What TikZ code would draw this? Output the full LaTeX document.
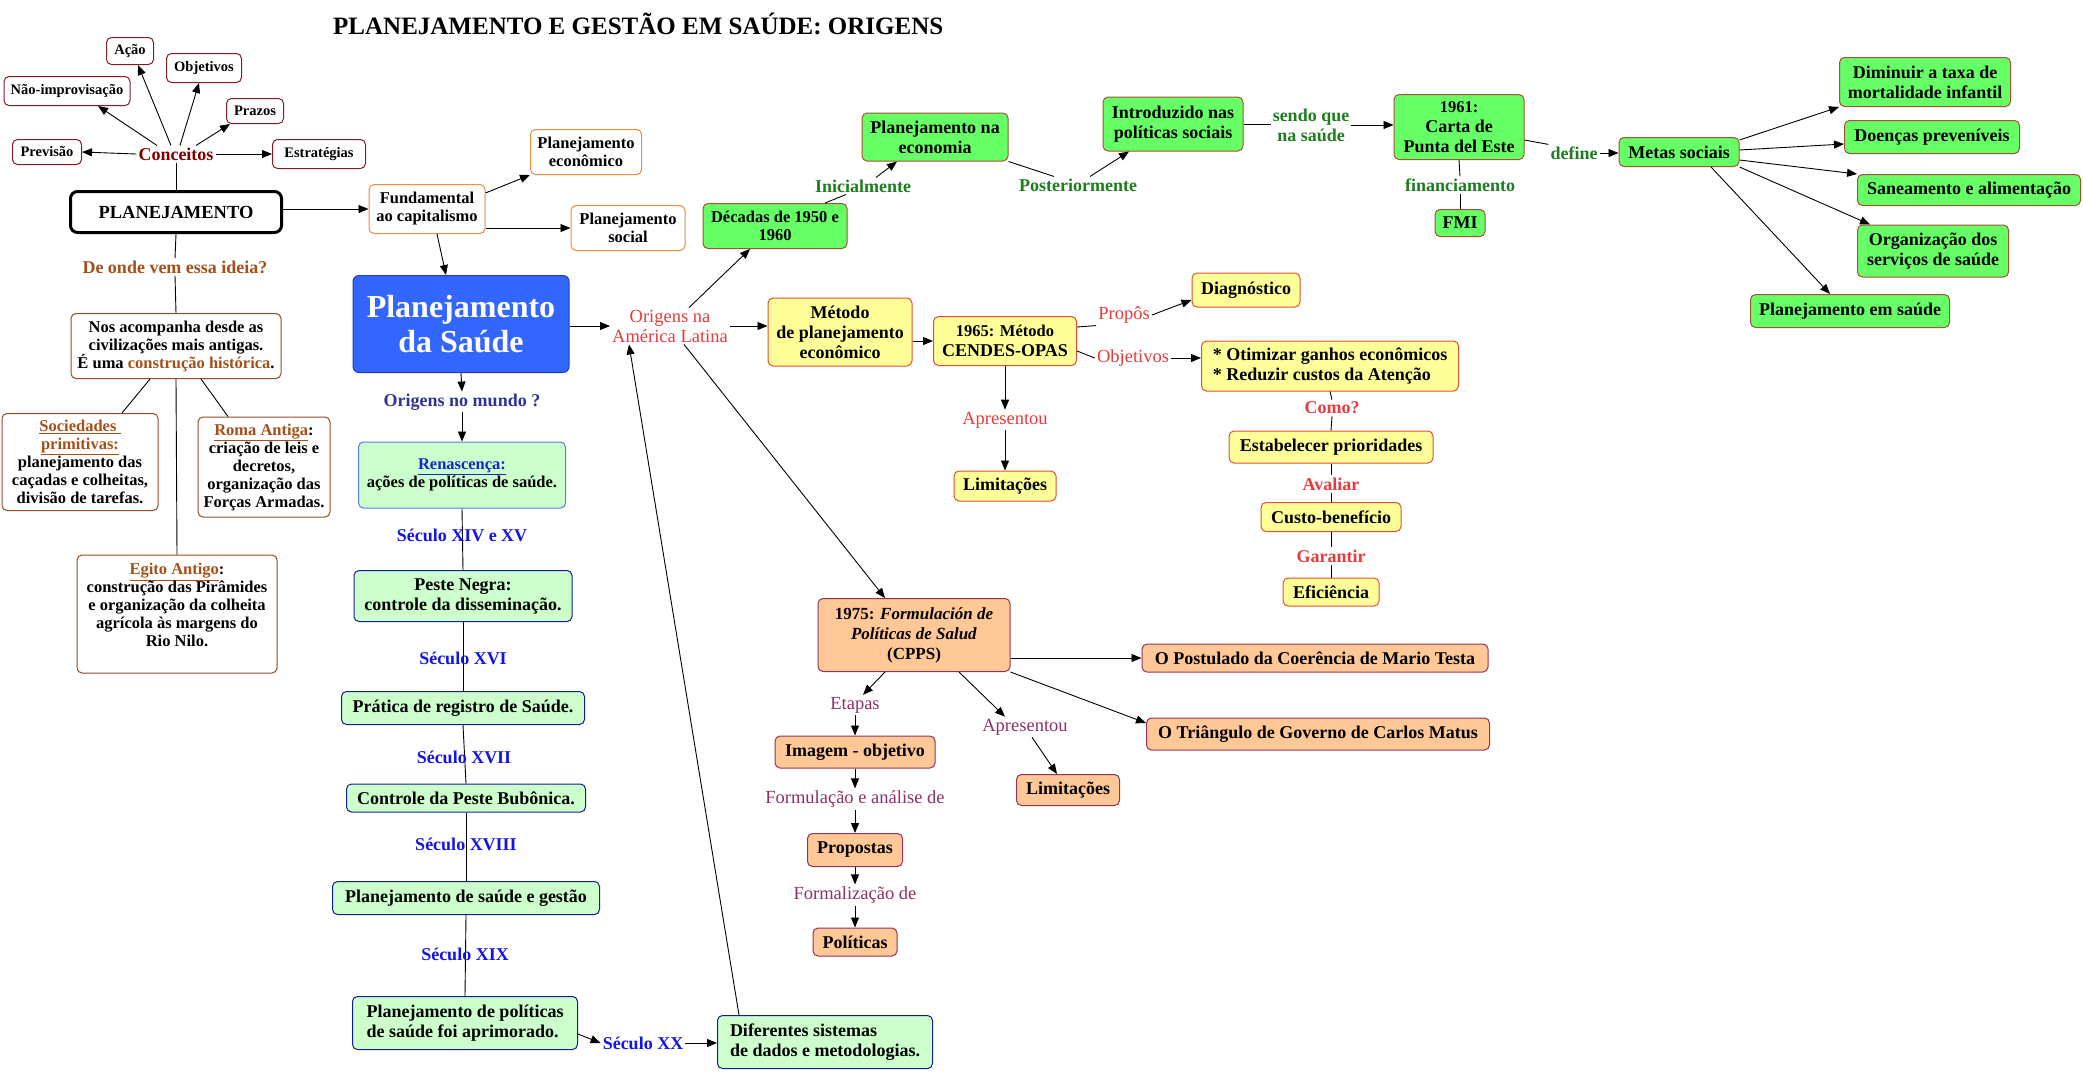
\documentclass[tikz,border=0pt]{standalone}
\usepackage{fontspec}
\setmainfont{Liberation Serif}
\usetikzlibrary{arrows.meta,calc}
\definecolor{cBoxRed}{RGB}{130,30,40}
\definecolor{cConc}{RGB}{128,0,0}
\definecolor{cOrange}{RGB}{240,140,60}
\definecolor{cBrown}{RGB}{150,75,35}
\definecolor{cHist}{RGB}{165,80,25}
\definecolor{cBlueBox}{RGB}{51,102,255}
\definecolor{cBlueBorder}{RGB}{30,60,200}
\definecolor{cLG}{RGB}{204,255,204}
\definecolor{cNavy}{RGB}{20,30,150}
\definecolor{cLightNavy}{RGB}{80,130,230}
\definecolor{cRen}{RGB}{20,40,200}
\definecolor{cSec}{RGB}{20,20,230}
\definecolor{cOrMundo}{RGB}{50,50,150}
\definecolor{cGreen}{RGB}{102,255,102}
\definecolor{cGreenBorder}{RGB}{170,80,50}
\definecolor{cDG}{RGB}{30,125,30}
\definecolor{cYel}{RGB}{255,255,153}
\definecolor{cYelBorder}{RGB}{225,80,50}
\definecolor{cLblRed}{RGB}{232,60,60}
\definecolor{cPeach}{RGB}{255,200,150}
\definecolor{cPeachBorder}{RGB}{150,50,90}
\definecolor{cPurple}{RGB}{140,50,100}
\newcommand{\fsA}{\fontsize{18}{20}\selectfont\bfseries}
\newcommand{\fsB}{\fontsize{16.5}{18}\selectfont\bfseries}
\newcommand{\fsC}{\fontsize{14.5}{16}\selectfont\bfseries}
\newcommand{\fsR}{\fontsize{18.5}{20}\selectfont}
\begin{document}
\begin{tikzpicture}[x=1pt,y=-1pt,
  sz/.style 2 args={minimum width=#1pt, minimum height=#2pt},
  box/.style={draw, rounded corners=5pt, line width=1pt, align=center, inner sep=2pt},
  cbox/.style={box, draw=cBoxRed, fill=white, font=\fsC},
  obox/.style={box, draw=cOrange, fill=white, font=\fsB},
  bbox/.style={box, draw=cBrown, fill=white, font=\fsB},
  lgbox/.style={box, draw=cNavy, fill=cLG, font=\fsA},
  gbox/.style={box, draw=cGreenBorder, fill=cGreen, font=\fsA},
  ybox/.style={box, draw=cYelBorder, fill=cYel, font=\fsA},
  pbox/.style={box, draw=cPeachBorder, fill=cPeach, font=\fsA},
  lbl/.style={inner sep=2pt, align=center, font=\fsA},
  lblr/.style={inner sep=2pt, align=center, font=\fsR},
  arr/.style={line width=0.9pt, -{Triangle[length=10pt,width=8pt]}},
  ln/.style={line width=0.9pt}]
\useasboundingbox[fill=white] (0,0) rectangle (2083,1072);

% title
\node[anchor=west, inner sep=0pt, font=\fontsize{25}{27}\selectfont\bfseries] (title) at (333,24) {PLANEJAMENTO E GESTÃO EM SAÚDE: ORIGENS};

% concepts
\node[cbox, sz={47}{27}] (acao) at (130,51) {Ação};
\node[cbox, sz={75}{29}] (objet) at (204,68) {Objetivos};
\node[cbox, sz={126}{29}] (naoimp) at (67,91) {Não-improvisação};
\node[cbox, sz={57}{25}] (prazos) at (255,111) {Prazos};
\node[cbox, sz={69}{25}] (previsao) at (47,152) {Previsão};
\node[cbox, sz={93}{29}] (estrat) at (319,154) {Estratégias};
\node[lbl, text=cConc] (conc) at (176,154) {Conceitos};
\node[draw, line width=3pt, rounded corners=7pt, fill=white, font=\fontsize{18.5}{20}\selectfont\bfseries, sz={211}{41}] (planej) at (176,212) {PLANEJAMENTO};
\node[obox, sz={116}{49}] (fund) at (427,209) {Fundamental\\ao capitalismo};
\node[obox, sz={111}{45}] (planeco) at (586,152) {Planejamento\\econômico};
\node[obox, sz={114}{45}] (plansoc) at (628,228) {Planejamento\\social};
\node[lbl, text=cHist] (deonde) at (175,267) {De onde vem essa ideia?};
\node[bbox, sz={210}{65}] (nos) at (176,346) {Nos acompanha desde as\\civilizações mais antigas.\\É uma \textcolor{cHist}{construção histórica}.};
\node[bbox, sz={156}{97}] (socied) at (80,462) {\textcolor{cHist}{\underline{Sociedades\ }}\\\textcolor{cHist}{\underline{primitivas:}}\\planejamento das\\caçadas e colheitas,\\divisão de tarefas.};
\node[bbox, sz={132}{100}] (roma) at (264,467) {\textcolor{cHist}{\underline{Roma Antiga}}:\\criação de leis e\\decretos,\\organização das\\Forças Armadas.};
\node[bbox, sz={200}{118}] (egito) at (177,614) {\textcolor{cHist}{\underline{Egito Antigo}}:\\construção das Pirâmides\\e organização da colheita\\agrícola às margens do\\Rio Nilo.\\\mbox{}};

% health planning
\node[draw=cBlueBorder, fill=cBlueBox, rounded corners=6pt, line width=1pt, text=white, align=center, font=\fontsize{32}{35}\selectfont\bfseries, sz={216}{97}] (plansaude) at (461,324) {Planejamento\\da Saúde};
\node[lbl, text=cOrMundo] (orimundo) at (462,402) {Origens no mundo ?};
\node[lgbox, draw=cLightNavy, font=\fsB, sz={207}{66}] (renasc) at (462,475) {\textcolor{cRen}{\underline{Renascença:}}\\ações de políticas de saúde.};
\node[lgbox, sz={218}{51}] (peste) at (463,596) {Peste Negra:\\controle da disseminação.};
\node[lgbox, sz={243}{33}] (pratica) at (463,708) {Prática de registro de Saúde.};
\node[lgbox, sz={239}{28}] (contr) at (466,798) {Controle da Peste Bubônica.};
\node[lgbox, sz={267}{33}] (plgest) at (466,898) {Planejamento de saúde e gestão};
\node[lgbox, align=left, sz={225}{53}] (plpol) at (465,1023) {Planejamento de políticas\\de saúde foi aprimorado.};
\node[lgbox, align=left, sz={215}{53}] (difer) at (825,1042) {Diferentes sistemas\\de dados e metodologias.};

\draw[ln] (renasc.south) -- (peste.north);
\draw[ln] (peste.south) -- (pratica.north);
\draw[ln] (pratica.south) -- (contr.north);
\draw[ln] (contr.south) -- (plgest.north);
\draw[ln] (plgest.south) -- (plpol.north);

\node[lbl, text=cSec] (s1415) at (462,535) {Século XIV e XV};
\node[lbl, text=cSec] (s16) at (463,658) {Século XVI};
\node[lbl, text=cSec] (s17) at (464,757) {Século XVII};
\node[lbl, text=cSec] (s18) at (466,844) {Século XVIII};
\node[lbl, text=cSec] (s19) at (465,954) {Século XIX};
\node[lbl, text=cSec] (s20) at (643,1043) {Século XX};

% Latin America
\node[lblr, text=cLblRed] (origal) at (670,326) {Origens na\\América Latina};
\node[gbox, font=\fsB, sz={144}{45}] (decadas) at (775,226) {Décadas de 1950 e\\1960};
\node[lbl, text=cDG] (inicial) at (863,186) {Inicialmente};
\node[gbox, sz={146}{48}] (planecon) at (935,137) {Planejamento na\\economia};
\node[lbl, text=cDG] (poster) at (1078,185) {Posteriormente};
\node[gbox, sz={140}{54}] (introd) at (1173,124) {Introduzido nas\\políticas sociais};
\node[lbl, text=cDG] (sendo) at (1311,125) {sendo que\\na saúde};
\node[gbox, sz={130}{65}] (carta) at (1459,127) {{\fsB 1961:}\\Carta de\\Punta del Este};
\node[lbl, text=cDG] (financ) at (1460,185) {financiamento};
\node[gbox, sz={50}{27}] (fmi) at (1460,223) {FMI};
\node[lbl, text=cDG] (define) at (1574,153) {define};
\node[gbox, sz={120}{29}] (metas) at (1679,152) {Metas sociais};
\node[gbox, sz={171}{49}] (dimin) at (1925,82) {Diminuir a taxa de\\mortalidade infantil};
\node[gbox, sz={175}{33}] (doenc) at (1932,137) {Doenças preveníveis};
\node[gbox, sz={223}{31}] (sanea) at (1969,190) {Saneamento e alimentação};
\node[gbox, sz={151}{52}] (organ) at (1933,251) {Organização dos\\serviços de saúde};
\node[gbox, sz={199}{33}] (plsaude) at (1850,311) {Planejamento em saúde};

\node[ybox, sz={144}{68}] (metodo) at (840,332) {Método\\de planejamento\\econômico};
\node[ybox, sz={143}{49}] (cendes) at (1005,341) {{\fsB 1965: Método}\\CENDES-OPAS};
\node[lblr, text=cLblRed] (propos) at (1124,315) {Propôs};
\node[ybox, sz={108}{34}] (diag) at (1246,290) {Diagnóstico};
\node[lblr, text=cLblRed] (objl) at (1133,358) {Objetivos};
\node[ybox, align=left, sz={257}{50}] (otim) at (1330,366) {* Otimizar ganhos econômicos\\* Reduzir custos da Atenção};
\node[lbl, text=cLblRed] (como) at (1332,408) {Como?};
\node[ybox, sz={204}{32}] (estab) at (1331,447) {Estabelecer prioridades};
\node[lbl, text=cLblRed] (aval) at (1331,484) {Avaliar};
\node[ybox, sz={140}{29}] (custo) at (1331,517) {Custo-benefício};
\node[lbl, text=cLblRed] (garant) at (1331,556) {Garantir};
\node[ybox, sz={96}{28}] (efic) at (1331,592) {Eficiência};
\node[lblr, text=cLblRed] (apres1) at (1005,420) {Apresentou};
\node[ybox, sz={102}{30}] (limit1) at (1005,486) {Limitações};

\node[pbox, font=\fontsize{17}{20}\selectfont\bfseries, sz={192}{73}] (c1975) at (914,635) {1975: \textit{Formulación de}\\\textit{Políticas de Salud}\\(CPPS)};
\node[lblr, text=cPurple] (etapas) at (855,705) {Etapas};
\node[pbox, sz={160}{32}] (imagem) at (855,752) {Imagem - objetivo};
\node[lblr, text=cPurple] (formul) at (855,799) {Formulação e análise de};
\node[pbox, sz={95}{33}] (propost) at (855,850) {Propostas};
\node[lblr, text=cPurple] (formal) at (855,895) {Formalização de};
\node[pbox, sz={84}{28}] (polit) at (855,942) {Políticas};
\node[lblr, text=cPurple] (apres2) at (1025,727) {Apresentou};
\node[pbox, sz={103}{31}] (limit2) at (1068,790) {Limitações};
\node[pbox, sz={346}{28}] (postul) at (1315,658) {O Postulado da Coerência de Mario Testa};
\node[pbox, sz={343}{32}] (triang) at (1318,734) {O Triângulo de Governo de Carlos Matus};

% connectors: concepts
\draw[arr] (conc.west) -- (previsao.east);
\draw[arr] (conc.east) -- (estrat.west);
\draw[arr] ([xshift=-19pt]conc.north) -- ([xshift=31pt]naoimp.south);
\draw[arr] ([xshift=-5pt]conc.north) -- ([xshift=8pt]acao.south);
\draw[arr] ([xshift=4pt]conc.north) -- ([xshift=-5pt]objet.south);
\draw[arr] ([xshift=20pt]conc.north) -- ([xshift=4pt]prazos.south west);
\draw[ln] (conc.south) -- (planej.north);
\draw[arr] (fund.west -| planej.east) -- (fund.west);
\draw[arr] ([yshift=16pt]fund.east) -- (planeco.south west);
\draw[arr] ([yshift=-19pt]fund.east) -- (plansoc.west);
\draw[arr] ([xshift=10pt]fund.south) -- ([xshift=-15pt]plansaude.north);
\draw[ln] (planej.south) -- (deonde.north);
\draw[ln] (deonde.south) -- (nos.north);
\draw[ln] ([xshift=-26pt]nos.south) -- ([xshift=42pt]socied.north);
\draw[ln] ([xshift=25pt]nos.south) -- ([xshift=-36pt]roma.north);
\draw[ln] (nos.south) -- (egito.north);

% timeline
\draw[arr] (plansaude.south) -- (orimundo.north);
\draw[arr] (orimundo.south) -- (renasc.north);
\draw[arr] ([yshift=-11pt]plpol.east) -- (s20.west);
\draw[arr] (s20.east) -- (s20.east -| difer.west);
\draw[arr] ([xshift=22pt]difer.north west) -- ([xshift=-41pt]origal.south);

% Latin America
\draw[arr] (plansaude.east |- origal.west) -- (origal.west);
\draw[arr] ([xshift=19pt]origal.north) -- ([xshift=-25pt]decadas.south);
\draw[arr] (origal.east) -- (origal.east -| metodo.west);
\draw[arr] ([xshift=14pt]origal.south) -- ([xshift=-29pt]c1975.north);
\draw[arr] (metodo.east |- cendes.west) -- (cendes.west);
\draw[ln] ([xshift=50pt]decadas.north) -- ([xshift=-17pt]inicial.south);
\draw[arr] ([xshift=13pt]inicial.north) -- ([xshift=-38pt]planecon.south);
\draw[ln] (planecon.south east) -- ([xshift=-24pt]poster.north);
\draw[arr] ([xshift=12pt]poster.north) -- ([xshift=-44pt]introd.south);
\draw[ln] (introd.east) -- (introd.east -| sendo.west);
\draw[arr] (sendo.east) -- (sendo.east -| carta.west);
\draw[ln] ([yshift=-13pt]carta.east) -- (define.north west);
\draw[arr] (define.east) -- (define.east -| metas.west);
\draw[ln] (carta.south) -- (financ.north);
\draw[ln] (financ.south) -- (fmi.north);
\draw[arr] ([yshift=12pt]metas.east) -- (dimin.south west);
\draw[arr] ([yshift=2pt]metas.east) -- ([yshift=-7pt]doenc.west);
\draw[arr] ([yshift=-8pt]metas.east) -- (sanea.north west);
\draw[arr] (metas.south east) -- ([xshift=13pt]organ.north west);
\draw[arr] ([xshift=32pt]metas.south) -- ([xshift=-20pt]plsaude.north);

% CENDES
\draw[ln] ([yshift=14pt]cendes.east) -- (propos.south west);
\draw[arr] (propos.east) -- ([yshift=-10pt]diag.west);
\draw[ln] ([yshift=-10pt]cendes.east) -- (objl.west);
\draw[arr] (objl.east) -- (objl.east -| otim.west);
\draw[ln] (otim.south) -- (como.north);
\draw[ln] (como.south) -- (estab.north);
\draw[ln] (estab.south) -- (aval.north);
\draw[ln] (aval.south) -- (custo.north);
\draw[ln] (custo.south) -- (garant.north);
\draw[ln] (garant.south) -- (efic.north);
\draw[arr] (cendes.south) -- (apres1.north);
\draw[arr] (apres1.south) -- (limit1.north);

% 1975
\draw[arr] ([yshift=-23pt]c1975.east) -- (postul.west);
\draw[arr] (c1975.south east) -- ([yshift=11pt]triang.west);
\draw[arr] ([xshift=-29pt]c1975.south) -- ([xshift=8pt]etapas.north);
\draw[arr] (etapas.south) -- (imagem.north);
\draw[arr] (imagem.south) -- (formul.north);
\draw[arr] (formul.south) -- (propost.north);
\draw[arr] (propost.south) -- (formal.north);
\draw[arr] (formal.south) -- (polit.north);
\draw[arr] ([xshift=45pt]c1975.south) -- ([xshift=-20pt]apres2.north);
\draw[arr] ([xshift=7pt]apres2.south) -- ([xshift=-11pt]limit2.north);
\end{tikzpicture}
\end{document}
